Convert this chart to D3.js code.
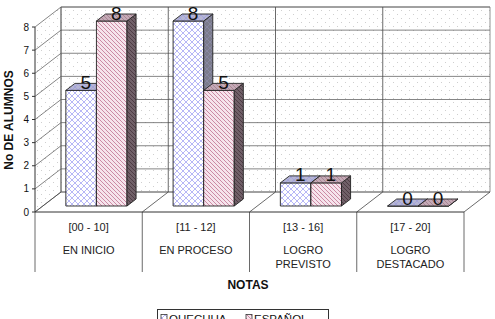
<!DOCTYPE html>
<html>
<head>
<meta charset="utf-8">
<script src="https://cdn.jsdelivr.net/npm/d3@7"></script>
<style>
  body { margin: 0; background: #fff; }
  svg { font-family: "Liberation Sans", Arial, sans-serif; }
</style>
</head>
<body>
<svg width="495" height="319"></svg>
<script>
// Chart data
const ranges = ["[00 - 10]", "[11 - 12]", "[13 - 16]", "[17 - 20]"];
const levels = [["EN INICIO"], ["EN PROCESO"], ["LOGRO", "PREVISTO"], ["LOGRO", "DESTACADO"]];
const series = ["QUECHUA", "ESPAÑOL"];
const quechua = [5, 8, 1, 0];
const espanol = [8, 5, 1, 0];
const yTicks = [0, 1, 2, 3, 4, 5, 6, 7, 8];

const svg = d3.select("svg");

// 3D depth offset (front plane -> back wall)
const depthX = 26, depthY = -20;
const pt = (x, y, z) => [x + depthX * z, y + depthY * z];

const x = d3.scaleBand().domain(ranges).range([35, 464]);
const y = d3.scaleLinear().domain([0, 8]).range([212, 27]);
const bw = x.bandwidth();
const x1 = d3.scaleBand().domain(series).range([bw * 0.215, bw * 0.785]);
const z0 = 0.3, z1 = 0.65;

// Patterns
const defs = svg.append("defs");
const dots = defs.append("pattern").attr("id", "dots")
  .attr("width", 8).attr("height", 8).attr("patternUnits", "userSpaceOnUse");
dots.append("rect").attr("width", 8).attr("height", 8).attr("fill", "#fff");
dots.append("rect").attr("x", 1).attr("y", 2).attr("width", 1).attr("height", 1).attr("fill", "#cfcfcf");
dots.append("rect").attr("x", 5).attr("y", 6).attr("width", 1).attr("height", 1).attr("fill", "#cfcfcf");

// diamond crosshatch (quechua)
function cross(id, bg, color) {
  const p = defs.append("pattern").attr("id", id)
    .attr("width", 6).attr("height", 6).attr("patternUnits", "userSpaceOnUse");
  p.append("rect").attr("width", 6).attr("height", 6).attr("fill", bg);
  p.append("path").attr("d", "M-1,7 L7,-1 M-1,1 L1,-1 M5,7 L7,5 M-1,-1 L7,7 M5,-1 L7,1 M-1,5 L1,7")
    .attr("stroke", color).attr("stroke-width", 0.8);
}
// back-diagonal stripes (español)
function stripes(id, bg, color) {
  const p = defs.append("pattern").attr("id", id)
    .attr("width", 4).attr("height", 4).attr("patternUnits", "userSpaceOnUse");
  p.append("rect").attr("width", 4).attr("height", 4).attr("fill", bg);
  p.append("path").attr("d", "M-1,-1 L5,5 M3,-1 L5,1 M-1,3 L1,5")
    .attr("stroke", color).attr("stroke-width", 1);
}
cross("qFront", "#fff", "#a4a4f4");
cross("qTop", "#b6b6d4", "#a0a0dc");
cross("qSide", "#7c7c8c", "#8c8ca8");
stripes("eFront", "#f6e4ec", "#cc8aa4");
stripes("eTop", "#c4aab6", "#a88494");
stripes("eSide", "#706068", "#4e3c44");

const poly = (pts) => "M" + pts.map((p) => p.join(",")).join("L") + "Z";
const g = svg.append("g");

// Left side wall and back wall
g.append("path")
  .attr("d", poly([pt(35, y(8), 0), pt(35, y(8), 1), pt(35, y(0), 1), pt(35, y(0), 0)]))
  .attr("fill", "url(#dots)").attr("stroke", "none");
g.append("path")
  .attr("d", poly([pt(35, y(8), 1), pt(464, y(8), 1), pt(464, y(0), 1), pt(35, y(0), 1)]))
  .attr("fill", "url(#dots)").attr("stroke", "#777").attr("stroke-width", 0.8);

// Gridlines on side wall and back wall
yTicks.forEach((t) => {
  g.append("path")
    .attr("d", "M" + pt(35, y(t), 0) + "L" + pt(35, y(t), 1) + "L" + pt(464, y(t), 1))
    .attr("fill", "none").attr("stroke", "#666").attr("stroke-width", 0.8);
});
// Category dividers on back wall
ranges.forEach((r, i) => {
  if (i === 0) return;
  const a = pt(x(r), y(0), 1), b = pt(x(r), y(8), 1);
  g.append("line").attr("x1", a[0]).attr("y1", a[1]).attr("x2", b[0]).attr("y2", b[1])
    .attr("stroke", "#444").attr("stroke-width", 0.8);
});
// Category dividers on floor and below axis
ranges.concat(["end"]).forEach((r, i) => {
  const xv = i < ranges.length ? x(r) : x.range()[1];
  g.append("path").attr("d", "M" + pt(xv, y(0), 0) + "L" + pt(xv, y(0), 1))
    .attr("stroke", "#444").attr("stroke-width", 0.8);
  g.append("line").attr("x1", xv).attr("x2", xv).attr("y1", y(0)).attr("y2", 272)
    .attr("stroke", "#444").attr("stroke-width", 0.8);
});
// Left wall back edge and floor front edge
g.append("path").attr("d", "M" + pt(35, y(0), 1) + "L" + pt(35, y(8), 1))
  .attr("stroke", "#555").attr("stroke-width", 0.8);
g.append("line").attr("x1", 35).attr("x2", 464).attr("y1", y(0)).attr("y2", y(0))
  .attr("stroke", "#333").attr("stroke-width", 1);

// Y axis
g.append("line").attr("x1", 35).attr("x2", 35).attr("y1", y(8)).attr("y2", y(0))
  .attr("stroke", "#333").attr("stroke-width", 1);
yTicks.forEach((t) => {
  g.append("line").attr("x1", 32).attr("x2", 35).attr("y1", y(t)).attr("y2", y(t))
    .attr("stroke", "#333");
  g.append("text").attr("x", 29).attr("y", y(t) + 3.5).attr("text-anchor", "end")
    .attr("font-size", 10).attr("fill", "#111").text(t);
});

// Bars
const barData = [];
ranges.forEach((r, i) => {
  barData.push({ cat: r, s: series[0], v: quechua[i], k: "q" });
  barData.push({ cat: r, s: series[1], v: espanol[i], k: "e" });
});
barData.forEach((d) => {
  const xa = x(d.cat) + x1(d.s), xb = xa + x1.bandwidth();
  const yb = y(0), yt = y(d.v);
  const bar = g.append("g");
  bar.append("path")
    .attr("d", poly([pt(xa, yb, z0), pt(xb, yb, z0), pt(xb, yt, z0), pt(xa, yt, z0)]))
    .attr("fill", `url(#${d.k}Front)`).attr("stroke", "#222").attr("stroke-width", 0.9);
  bar.append("path")
    .attr("d", poly([pt(xb, yb, z0), pt(xb, yt, z0), pt(xb, yt, z1), pt(xb, yb, z1)]))
    .attr("fill", `url(#${d.k}Side)`).attr("stroke", "#222").attr("stroke-width", 0.9);
  bar.append("path")
    .attr("d", poly([pt(xa, yt, z0), pt(xb, yt, z0), pt(xb, yt, z1), pt(xa, yt, z1)]))
    .attr("fill", `url(#${d.k}Top)`).attr("stroke", "#222").attr("stroke-width", 0.9);
  const c = pt((xa + xb) / 2, yt, (z0 + z1) / 2);
  bar.append("text").attr("x", c[0]).attr("y", c[1] + 2)
    .attr("text-anchor", "middle").attr("font-size", 19).attr("fill", "#111")
    .text(d.v);
});

// Category labels
ranges.forEach((r, i) => {
  const cx = x(r) + bw / 2;
  g.append("text").attr("x", cx).attr("y", 231).attr("text-anchor", "middle")
    .attr("font-size", 11).attr("fill", "#222").text(r);
  levels[i].forEach((line, j) => {
    g.append("text").attr("x", cx).attr("y", 254 + j * 14).attr("text-anchor", "middle")
      .attr("font-size", 11).attr("fill", "#222").text(line);
  });
});

// Axis titles
svg.append("text").attr("x", 248).attr("y", 289).attr("text-anchor", "middle")
  .attr("font-size", 12).attr("font-weight", "bold").attr("fill", "#111").text("NOTAS");
svg.append("text").attr("transform", "translate(13,120) rotate(-90)")
  .attr("text-anchor", "middle").attr("font-size", 12).attr("font-weight", "bold")
  .attr("fill", "#111").text("No DE ALUMNOS");

// Legend (bottom edge cut off by the frame, as in the original)
const lg = svg.append("g");
lg.append("rect").attr("x", 157.5).attr("y", 309.5).attr("width", 171).attr("height", 20)
  .attr("fill", "#fff").attr("stroke", "#333");
const legX = [161, 246];
series.forEach((s, i) => {
  const k = i === 0 ? "q" : "e";
  lg.append("rect").attr("x", legX[i]).attr("y", 314.5).attr("width", 6).attr("height", 6)
    .attr("fill", `url(#${k}Front)`).attr("stroke", "#333").attr("stroke-width", 0.8);
  lg.append("text").attr("x", legX[i] + 8).attr("y", 323).attr("font-size", 11.5)
    .attr("fill", "#111").text(s);
});
</script>
</body>
</html>
